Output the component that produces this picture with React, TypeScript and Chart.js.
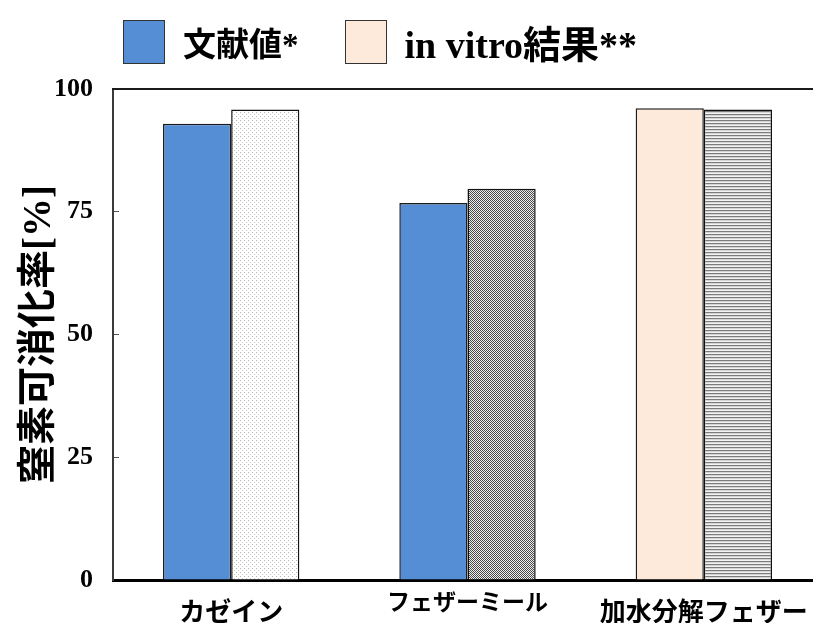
import React, { useEffect, useRef } from "react";
import { Chart, registerables } from "chart.js";

Chart.register(...registerables);

// Categories and values (nitrogen digestibility, %)
const CATEGORIES: (string | string[])[] = ["カゼイン", "フェザーミール", ["加水分解フェザー", "ミール"]];
const LEFT_BAR_VALUES = [92.9, 76.8, 96.1];
const RIGHT_BAR_VALUES = [95.8, 79.7, 95.8];
const LEGEND_LABELS = ["文献値*", "in vitro結果**"];
const Y_TICKS = [0, 25, 50, 75, 100];
const Y_TITLE = "窒素可消化率[%]";

const BLUE = "#558ED5";
const PEACH = "#FDEADA";
const LEGEND_COLORS = [BLUE, PEACH];
const LEGEND_FONT_SIZES = [33, 38];

const SERIF_CJK = "'Liberation Serif', 'Noto Sans CJK JP', serif";
const GOTHIC = "'Noto Sans CJK JP', sans-serif";

type Cell = [number, number, string];

// Build a small repeating fill pattern from a tile description
function makePattern(w: number, h: number, base: string, cells: Cell[]): CanvasPattern | string {
  const tile = document.createElement("canvas");
  tile.width = w;
  tile.height = h;
  const c = tile.getContext("2d");
  if (!c) return base;
  c.fillStyle = base;
  c.fillRect(0, 0, w, h);
  for (const [x, y, col] of cells) {
    c.fillStyle = col;
    c.fillRect(x, y, 1, 1);
  }
  const main = document.createElement("canvas").getContext("2d");
  return (main && main.createPattern(tile, "repeat")) || base;
}

function stripePattern(): CanvasPattern | string {
  const cells: Cell[] = [];
  for (let x = 0; x < 4; x++) {
    cells.push([x, 0, "#7c7c7c"]);
    cells.push([x, 1, "#d4d4d4"]);
  }
  return makePattern(4, 3, "#f2f2f2", cells);
}

// Draws the top and right edges of the plot frame
const frameTop = {
  id: "frameTop",
  afterDatasetsDraw(chart: Chart) {
    const { ctx, chartArea } = chart;
    ctx.save();
    ctx.strokeStyle = "#1a1a1a";
    ctx.lineWidth = 2;
    ctx.beginPath();
    ctx.moveTo(chartArea.left - 1, chartArea.top);
    ctx.lineTo(chartArea.right, chartArea.top);
    ctx.lineTo(chartArea.right, chartArea.bottom);
    ctx.stroke();
    ctx.restore();
  },
};

export default function App() {
  const canvasRef = useRef<HTMLCanvasElement | null>(null);

  useEffect(() => {
    const canvas = canvasRef.current;
    if (!canvas) return;

    const dots = makePattern(4, 4, "#ffffff", [
      [0, 0, "#b4b4b4"],
      [2, 2, "#c8c8c8"],
    ]);
    const checker = makePattern(2, 2, "#eeeeee", [
      [0, 0, "#4a4a4a"],
      [1, 1, "#4a4a4a"],
    ]);
    const stripes = stripePattern();

    const chart = new Chart(canvas, {
      type: "bar",
      data: {
        labels: CATEGORIES,
        datasets: [
          {
            label: LEGEND_LABELS[0],
            data: LEFT_BAR_VALUES,
            backgroundColor: [BLUE, BLUE, PEACH],
            borderColor: "#1c1c1c",
            borderWidth: 1.5,
            categoryPercentage: 0.577,
            barPercentage: 1,
          },
          {
            label: LEGEND_LABELS[1],
            data: RIGHT_BAR_VALUES,
            backgroundColor: [dots, checker, stripes] as any,
            borderColor: "#111111",
            borderWidth: 1.5,
            categoryPercentage: 0.577,
            barPercentage: 1,
          },
        ],
      },
      options: {
        animation: false,
        responsive: false,
        events: [],
        layout: { padding: { top: 89, left: 0, right: 0, bottom: 0 } },
        plugins: {
          legend: { display: false },
          tooltip: { enabled: false },
        },
        scales: {
          x: {
            grid: { display: false, drawTicks: false },
            border: { display: true, color: "#000000", width: 3 },
            ticks: {
              color: "#000000",
              padding: 13,
              autoSkip: false,
              maxRotation: 0,
              font: (ctx: any) =>
                ctx.index === 1
                  ? { family: GOTHIC, size: 23, weight: "bold", lineHeight: 0.7 }
                  : { family: GOTHIC, size: 26, weight: "bold", lineHeight: 1.385 },
            },
            afterFit: (s: any) => {
              s.height = 43;
            },
          },
          y: {
            min: 0,
            max: 100,
            afterBuildTicks: (s: any) => {
              s.ticks = Y_TICKS.map((v) => ({ value: v }));
            },
            grid: {
              drawOnChartArea: false,
              drawTicks: true,
              tickLength: -6,
              color: "#555555",
              lineWidth: 1,
            },
            border: { display: true, color: "#3a3a3a", width: 2 },
            ticks: {
              color: "#000000",
              padding: 26,
              font: { family: SERIF_CJK, size: 26, weight: "bold" },
            },
            title: {
              display: true,
              text: Y_TITLE,
              color: "#000000",
              font: { family: SERIF_CJK, size: 39, weight: "bold", lineHeight: 1.2 },
              padding: { top: 17, bottom: 0 },
            },
            afterFit: (s: any) => {
              s.width = 113;
            },
          },
        },
      },
      plugins: [frameTop],
    });

    return () => chart.destroy();
  }, []);

  return (
    <div
      style={{
        position: "fixed",
        left: 0,
        top: 0,
        width: 813,
        height: 623,
        overflow: "hidden",
        background: "#ffffff",
      }}
    >
      <canvas ref={canvasRef} width={822} height={623} style={{ display: "block", width: 822, height: 623 }} />
      <div style={{ position: "absolute", left: 123, top: 20, display: "flex", alignItems: "center" }}>
        {LEGEND_LABELS.map((text, i) => (
          <div key={text} style={{ display: "flex", alignItems: "center", marginRight: i === 0 ? 46 : 0 }}>
            <span
              style={{
                display: "inline-block",
                width: 42,
                height: 44,
                boxSizing: "border-box",
                border: "1.5px solid #333333",
                background: LEGEND_COLORS[i],
                marginRight: 18,
              }}
            />
            <span
              style={{
                font: `bold ${LEGEND_FONT_SIZES[i]}px ${SERIF_CJK}`,
                lineHeight: "44px",
                whiteSpace: "nowrap",
                color: "#000",
                position: "relative",
                top: 3,
              }}
            >
              {text}
            </span>
          </div>
        ))}
      </div>
    </div>
  );
}
